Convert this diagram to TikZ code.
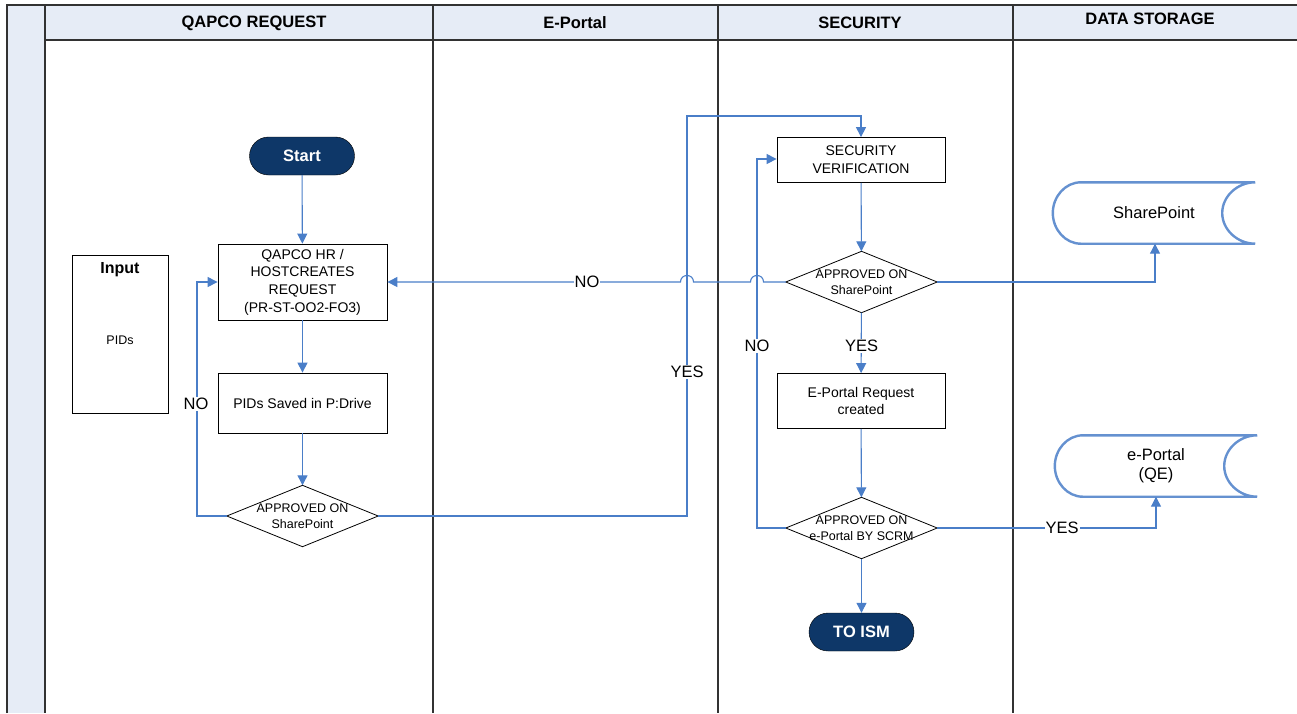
\documentclass[tikz,border=0pt]{standalone}
\usepackage{fontspec}
\setmainfont{Liberation Sans}
\usetikzlibrary{arrows.meta,calc}
\definecolor{navy}{RGB}{14,55,104}
\definecolor{conn}{RGB}{74,126,200}
\definecolor{hdr}{RGB}{230,236,246}
\definecolor{lane}{RGB}{50,50,50}
\tikzset{
  laneline/.style={draw=lane,line width=1.3pt},
  hdrtext/.style={font=\fontsize{16.5}{18}\selectfont\bfseries},
  term/.style={draw=black,fill=navy,text=white,font=\fontsize{16.5}{18}\selectfont\bfseries,minimum width=105pt,minimum height=38pt,rounded corners=19pt,inner sep=0},
  proc/.style={draw=black,line width=0.8pt,fill=white,align=center,font=\fontsize{14}{17.7}\selectfont,minimum width=169pt,inner sep=0},
  dec/.style={align=center,font=\fontsize{12.5}{15.7}\selectfont,minimum width=151pt,minimum height=61pt,inner sep=0},
  store/.style={align=center,font=\fontsize{16.5}{19}\selectfont,minimum width=202pt,minimum height=61pt,inner sep=0},
  conn/.style={draw=conn,line width=1.1pt},
  arr/.style={conn,-{Triangle[length=10pt,width=10pt]}},
  lbl/.style={fill=white,inner sep=1pt,font=\fontsize{16.5}{18}\selectfont},
}
\newcommand\diamondof[1]{\draw[black,line width=0.8pt] (#1.north)--(#1.east)--(#1.south)--(#1.west)--cycle;}
\newcommand\storeof[1]{\draw[conn,line width=2.4pt,draw opacity=0.85]
  ($(#1.north west)+(28,0)$) -- (#1.north east)
  .. controls ($(#1.north east)+(-18,0)$) and ($(#1.east)+(-33,-16.5)$) .. ($(#1.east)+(-33,0)$)
  .. controls ($(#1.east)+(-33,16.5)$) and ($(#1.south east)+(-18,0)$) .. (#1.south east)
  -- ($(#1.south west)+(28,0)$)
  .. controls ($(#1.south west)+(12.5,0)$) and ($(#1.west)+(0,16.5)$) .. (#1.west)
  .. controls ($(#1.west)+(0,-16.5)$) and ($(#1.north west)+(12.5,0)$) .. ($(#1.north west)+(28,0)$);}
\begin{document}
\begin{tikzpicture}[x=1pt,y=-1pt]
\useasboundingbox (0,0) rectangle (1297,713);
% pool / lanes
\fill[hdr] (7,5) rectangle (45,713);
\fill[hdr] (45,5) rectangle (1297,40);
\draw[laneline] (7,713) -- (7,5) -- (1297,5);
\draw[laneline] (45,40) -- (1297,40);
\foreach \xx in {45,433,718,1013} \draw[laneline] (\xx,5) -- (\xx,713);
\node[hdrtext] (h1) at (254,23) {QAPCO REQUEST};
\node[hdrtext] (h2) at (575,23) {E-Portal};
\node[hdrtext] (h3) at (860,23) {SECURITY};
\node[hdrtext] (h4) at (1150,19) {DATA STORAGE};
% input box
\node[draw=black,line width=0.8pt,minimum width=96pt,minimum height=158pt,inner sep=0] (inp) at (120,334) {};
\node[font=\fontsize{16}{18}\selectfont\bfseries] (inpt) at (120,270) {Input};
\node[font=\fontsize{12.5}{14}\selectfont] (inpp) at (120,340) {PIDs};
% nodes
\node[term] (start) at (302,156) {Start};
\node[proc,minimum height=76pt] (q) at (302.5,282) {QAPCO HR /\\HOSTCREATES\\REQUEST\\(PR-ST-OO2-FO3)};
\node[proc,minimum height=60pt] (pids) at (302.5,403) {PIDs Saved in P:Drive};
\node[dec] (d1) at (302.5,516) {APPROVED ON\\SharePoint};
\diamondof{d1}
\node[proc,minimum width=168pt,minimum height=45pt] (sv) at (861,160) {SECURITY\\VERIFICATION};
\node[dec] (d2) at (861.5,282) {APPROVED ON\\SharePoint};
\diamondof{d2}
\node[proc,minimum width=168pt,minimum height=55pt] (ep) at (861,401) {E-Portal Request\\created};
\node[dec] (d3) at (861.5,528) {APPROVED ON\\e-Portal BY SCRM};
\diamondof{d3}
\node[term] (ism) at (861.5,632) {TO ISM};
\node[store] (sp) at (1154,213) {SharePoint};
\storeof{sp}
\node[store] (qe) at (1156,466) {e-Portal\\(QE)};
\storeof{qe}
% connectors
\coordinate (n1) at (197,516);
\coordinate (n2) at (197,282);
\coordinate (y1) at (687,516);
\coordinate (y2) at (687,116);
\coordinate (y3) at (861,116);
\coordinate (n3) at (757,528);
\coordinate (n4) at (757,159);
\coordinate (s1) at (1155,282);
\coordinate (e1) at (1156,528);
\draw[arr] (start) -- (q);
\draw[arr] (q) -- (pids);
\draw[arr] (pids) -- (d1);
\draw[arr] (d1.west) -- (n1) -- (n2) -- (q.west);
\node[lbl] (lno1) at (196,404) {NO};
\draw[arr] (d1.east) -- (y1) -- (y2) -- (y3) -- (sv.north);
\node[lbl] (lyes1) at (687,372) {YES};
\draw[arr] (sv) -- (d2);
\draw[arr] (d2.west) -- (763.5,282) .. controls (763.5,273.3) and (750.5,273.3) .. (750.5,282)
  -- (693.5,282) .. controls (693.5,273.3) and (680.5,273.3) .. (680.5,282) -- (q.east);
\node[lbl] (lno2) at (587,282) {NO};
\draw[arr] (d2.east) -- (s1) -- (sp.south -| s1);
\draw[arr] (d2) -- (ep);
\node[lbl] (lyes2) at (861.5,346) {YES};
\draw[arr] (ep) -- (d3);
\draw[arr] (d3.west) -- (n3) -- (n4) -- (sv.west |- n4);
\node[lbl] (lno3) at (757,346) {NO};
\draw[arr] (d3.east) -- (e1) -- (qe.south -| e1);
\node[lbl] (lyes3) at (1062,528) {YES};
\draw[arr] (d3) -- (ism);
\end{tikzpicture}
\end{document}
